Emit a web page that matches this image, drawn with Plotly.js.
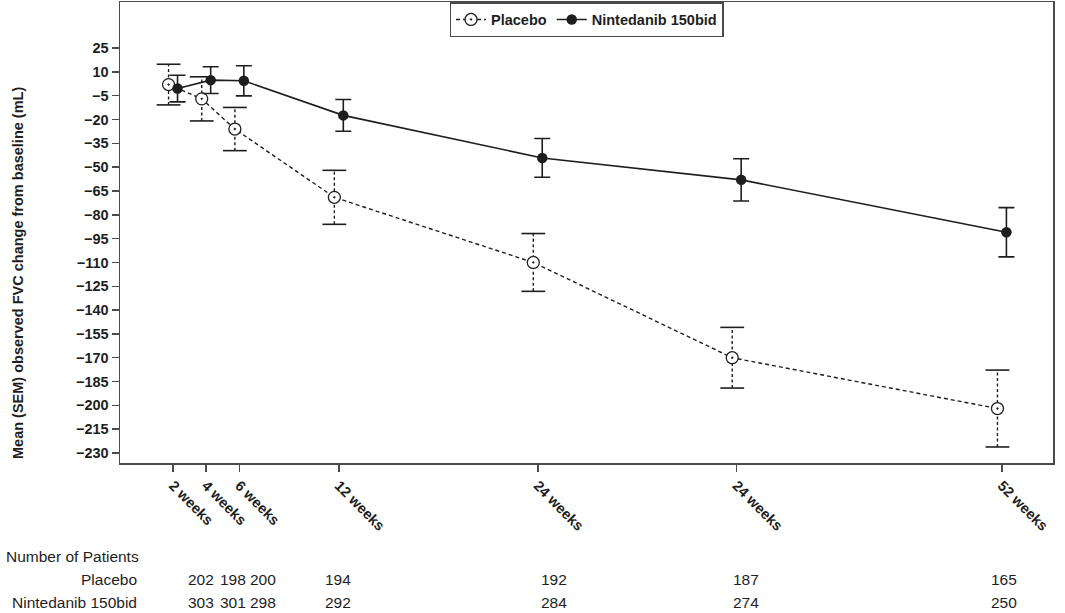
<!DOCTYPE html>
<html>
<head>
<meta charset="utf-8">
<script src="https://cdn.plot.ly/plotly-3.0.1.min.js"></script>
<style>
html,body{margin:0;padding:0;background:#fff;}
#chart{width:1065px;height:613px;}
</style>
</head>
<body>
<div id="chart"></div>
<script>
// ---- data ----
var weeks = [2, 4, 6, 12, 24, 36, 52];
var tickLabels = ['2 weeks', '4 weeks', '6 weeks', '12 weeks', '24 weeks', '24 weeks', '52 weeks'];
var yTicks = [25, 10, -5, -20, -35, -50, -65, -80, -95, -110, -125, -140, -155, -170, -185, -200, -215, -230];
var placeboMean = [2, -7, -26, -69, -110, -170, -202];
var placeboSEM = [12.8, 13.9, 13.6, 17, 18.2, 19.1, 24.2];
var ninMean = [-0.5, 4.8, 4.4, -17.4, -44.2, -58, -91];
var ninSEM = [8.4, 8.4, 9.5, 10, 12.2, 13.3, 15.5];
var placeboN = [202, 198, 200, 194, 192, 187, 165];
var ninN = [303, 301, 298, 292, 284, 274, 250];

// ---- styling / layout ----
var FONT = 'Liberation Sans, Arial, Helvetica, sans-serif';
var INK = '#1e1e1e';
var AX = '#4a4a4a';
var dodge = 0.27;
var plotL = 120, plotR = 1053, plotT = 2, plotB = 463;
var tablePx = [201, 233, 263, 338, 554, 746, 1004];

var xP = weeks.map(function (w) { return w - dodge; });
var xN = weeks.map(function (w) { return w + dodge; });

// dashed stems for placebo
var stemX = [], stemY = [], capX = [], capY = [];
for (var i = 0; i < weeks.length; i++) {
  stemX.push(xP[i], xP[i], null);
  stemY.push(placeboMean[i] - placeboSEM[i], placeboMean[i] + placeboSEM[i], null);
  capX.push(xP[i], xP[i]);
  capY.push(placeboMean[i] - placeboSEM[i], placeboMean[i] + placeboSEM[i]);
}

var traces = [
  {
    x: stemX, y: stemY, mode: 'lines', showlegend: false, hoverinfo: 'skip',
    line: {color: INK, width: 1.4, dash: '3px,2.5px'}
  },
  {
    x: capX, y: capY, mode: 'markers', showlegend: false, hoverinfo: 'skip',
    marker: {symbol: 'line-ew', size: 17, color: INK, line: {color: INK, width: 1.6}}
  },
  {
    name: 'Placebo', x: xP, y: placeboMean, mode: 'lines+markers',
    line: {color: INK, width: 1.4, dash: '4px,3px'},
    marker: {symbol: 'circle-dot', size: 12, color: '#ffffff', line: {color: INK, width: 1.3}}
  },
  {
    name: 'Nintedanib 150bid', x: xN, y: ninMean, mode: 'lines+markers',
    line: {color: INK, width: 1.6},
    marker: {symbol: 'circle', size: 10.5, color: INK},
    error_y: {type: 'data', array: ninSEM, visible: true, color: INK, thickness: 1.6, width: 8}
  }
];

// pixel -> paper helpers for the patient table
function px2x(p) { return (p - plotL) / (plotR - plotL); }
function py2y(p) { return (plotB - p) / (plotB - plotT); }

var annotations = [
  {
    text: 'Mean (SEM) observed FVC change from baseline (mL)',
    xref: 'paper', yref: 'paper', x: px2x(18), y: py2y(273), textangle: -90,
    showarrow: false, xanchor: 'center', yanchor: 'middle',
    font: {family: FONT, size: 14.5, color: INK, weight: 'bold'}
  },
  {
    text: 'Number of Patients', xref: 'paper', yref: 'paper', x: px2x(4), y: py2y(556),
    showarrow: false, xanchor: 'left', yanchor: 'middle',
    font: {family: FONT, size: 15.5, color: INK}
  },
  {
    text: 'Placebo', xref: 'paper', yref: 'paper', x: px2x(139), y: py2y(579),
    showarrow: false, xanchor: 'right', yanchor: 'middle',
    font: {family: FONT, size: 15.5, color: INK}
  },
  {
    text: 'Nintedanib 150bid', xref: 'paper', yref: 'paper', x: px2x(139), y: py2y(602),
    showarrow: false, xanchor: 'right', yanchor: 'middle',
    font: {family: FONT, size: 15.5, color: INK}
  }
];
for (var j = 0; j < weeks.length; j++) {
  annotations.push({
    text: String(placeboN[j]), xref: 'paper', yref: 'paper', x: px2x(tablePx[j]), y: py2y(579),
    showarrow: false, xanchor: 'center', yanchor: 'middle',
    font: {family: FONT, size: 15.5, color: INK}
  });
  annotations.push({
    text: String(ninN[j]), xref: 'paper', yref: 'paper', x: px2x(tablePx[j]), y: py2y(602),
    showarrow: false, xanchor: 'center', yanchor: 'middle',
    font: {family: FONT, size: 15.5, color: INK}
  });
}

var layout = {
  width: 1065, height: 613,
  margin: {l: plotL, r: 1065 - plotR, t: plotT, b: 613 - plotB, pad: 0},
  paper_bgcolor: '#ffffff', plot_bgcolor: '#ffffff',
  font: {family: FONT, color: INK},
  showlegend: true,
  legend: {
    orientation: 'h', x: 0.5, xanchor: 'center', y: 1, yanchor: 'top',
    bgcolor: '#ffffff', bordercolor: AX, borderwidth: 1.5,
    font: {family: FONT, size: 14.5, color: INK, weight: 'bold'},
    itemwidth: 30, tracegroupgap: 0
  },
  xaxis: {
    range: [-1.2, 55.08], tickmode: 'array', tickvals: weeks, ticktext: tickLabels,
    tickangle: 45, ticks: 'outside', ticklen: 7, tickwidth: 1.5, tickcolor: AX,
    showline: true, linecolor: AX, linewidth: 1.5, mirror: true,
    showgrid: false, zeroline: false,
    tickfont: {family: FONT, size: 14.5, color: INK, weight: 'bold'}
  },
  yaxis: {
    range: [-236.3, 54], tickmode: 'array', tickvals: yTicks,
    ticks: 'outside', ticklen: 7, tickwidth: 1.5, tickcolor: AX,
    showline: true, linecolor: AX, linewidth: 1.5, mirror: true,
    showgrid: false, zeroline: false,
    tickfont: {family: FONT, size: 14.5, color: INK, weight: 'bold'}
  },
  annotations: annotations
};

Plotly.newPlot('chart', traces, layout, {displayModeBar: false, staticPlot: true});
</script>
</body>
</html>
